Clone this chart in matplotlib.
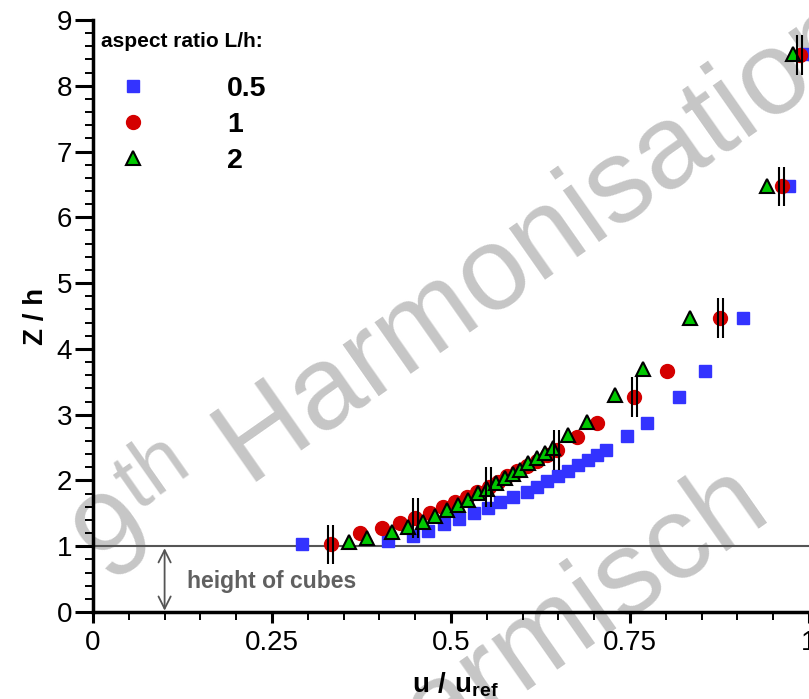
import numpy as np
import matplotlib
matplotlib.use("Agg")
import matplotlib.pyplot as plt

plt.rcParams["font.family"] = ["Liberation Sans", "DejaVu Sans"]
plt.rcParams["mathtext.fontset"] = "custom"
plt.rcParams["mathtext.rm"] = "Liberation Sans"
plt.rcParams["mathtext.bf"] = "Liberation Sans:bold"

# Daten: u/u_ref und Z/h je Seitenverhaeltnis
u_05 = [0.292, 0.412, 0.447, 0.468, 0.490, 0.511, 0.532, 0.552, 0.568, 0.587, 0.606, 0.620, 0.634,
        0.649, 0.663, 0.677, 0.691, 0.704, 0.716, 0.746, 0.774, 0.818, 0.855, 0.908, 0.972, 0.996]
z_05 = [1.03, 1.08, 1.15, 1.23, 1.34, 1.41, 1.50, 1.58, 1.67, 1.75, 1.82, 1.90, 1.99,
        2.07, 2.14, 2.23, 2.31, 2.39, 2.46, 2.67, 2.87, 3.27, 3.66, 4.47, 6.47, 8.48]

u_1 = [0.332, 0.373, 0.404, 0.429, 0.450, 0.471, 0.489, 0.506, 0.522, 0.536, 0.553, 0.565, 0.578,
       0.592, 0.606, 0.620, 0.634, 0.648, 0.676, 0.704, 0.756, 0.802, 0.876, 0.962, 0.987]
z_1 = [1.03, 1.20, 1.28, 1.35, 1.43, 1.50, 1.60, 1.67, 1.75, 1.82, 1.90, 1.98, 2.06,
       2.14, 2.22, 2.30, 2.38, 2.46, 2.66, 2.87, 3.27, 3.66, 4.47, 6.47, 8.47]
# Punkte von L/h = 1 mit Fehlerbalken (Index in u_1/z_1)
err_idx_1 = [0, 4, 10, 17, 20, 22, 23, 24]

u_2 = [0.358, 0.382, 0.418, 0.440, 0.461, 0.478, 0.494, 0.510, 0.524, 0.538, 0.550, 0.563, 0.575,
       0.587, 0.596, 0.608, 0.620, 0.631, 0.642, 0.663, 0.690, 0.729, 0.768, 0.834, 0.941, 0.978]
z_2 = [1.06, 1.12, 1.22, 1.29, 1.37, 1.46, 1.55, 1.63, 1.70, 1.81, 1.87, 1.96, 2.04,
       2.10, 2.16, 2.26, 2.34, 2.42, 2.49, 2.69, 2.89, 3.30, 3.69, 4.47, 6.47, 8.48]

labels = ["0.5", "1", "2"]
x_ticks = [0, 0.25, 0.5, 0.75, 1]
x_ticklabels = ["0", "0.25", "0.5", "0.75", "1"]
y_ticks = list(range(10))

fig = plt.figure(figsize=(8.09, 6.99), dpi=100)
ax = fig.add_axes([93 / 809, 87 / 699, 716 / 809, 592 / 699])

# Wasserzeichen
wm = dict(transform=fig.transFigure, fontsize=85, color="#c6c6c6", rotation=35,
          rotation_mode="anchor", ha="left", va="baseline", zorder=0.5, clip_on=False)
ax.text(0.135, 0.160, r"9$^{\rm th}$ Harmonisation", **wm)
ax.text(0.445, -0.150, "Garmisch", **wm)

ax.axhline(1.0, color="#555555", lw=1.5, zorder=2)

ax.plot(u_05, z_05, ls="none", marker="s", ms=8, color="#3333ff", mec="#3333ff", label=labels[0], zorder=3)
ax.plot(u_1, z_1, ls="none", marker="o", ms=10, color="#d40000", mec="#d40000", label=labels[1], zorder=4)
ax.plot(u_2, z_2, ls="none", marker="^", ms=10.5, color="#00c800", mec="black", mew=1.5,
        label=labels[2], zorder=5)

# Fehlerbalken als Doppelstrich
u_err = np.array(u_1)[err_idx_1]
z_err = np.array(z_1)[err_idx_1]
for dx in (-0.0035, 0.0035):
    ax.vlines(u_err + dx, z_err - 0.3, z_err + 0.3, colors="black", lw=1.5, zorder=6)

# Hoehe der Wuerfel
ax.annotate("", xy=(0.1, 0.02), xytext=(0.1, 0.97),
            arrowprops=dict(arrowstyle="<->", color="#555555", lw=1.3,
                            shrinkA=0, shrinkB=0, mutation_scale=22))
ax.text(0.131, 0.47, "height of cubes", fontsize=16.5, fontweight="bold", color="#606060",
        ha="left", va="center")

ax.set_xlim(0, 1)
ax.set_ylim(0, 9)
ax.set_xticks(x_ticks)
ax.set_xticklabels(x_ticklabels)
ax.set_yticks(y_ticks)
ax.set_xticks(np.arange(0, 1.001, 0.05), minor=True)
ax.set_yticks(np.arange(0, 9.001, 0.2), minor=True)
ax.tick_params(axis="both", which="major", labelsize=20, width=2.2, direction="out")
ax.tick_params(axis="y", which="major", length=13, pad=2)
ax.tick_params(axis="x", which="major", length=8, pad=5)
ax.tick_params(axis="both", which="minor", length=6, width=1.4, direction="out")

for side in ("top", "right"):
    ax.spines[side].set_visible(False)
for side in ("left", "bottom"):
    ax.spines[side].set_linewidth(2.5)

ax.set_ylabel("Z / h", fontsize=20, fontweight="bold")
ax.yaxis.set_label_coords(-0.062, 0.5)
ax.set_xlabel(r"$\mathbf{u\ /\ u_{ref}}$", fontsize=20)
ax.xaxis.set_label_coords(0.506, -0.0985)

ax.text(0.011, 0.963, "aspect ratio L/h:", transform=ax.transAxes, fontsize=15,
        fontweight="bold", ha="left", va="center")
ax.legend(loc="upper left", bbox_to_anchor=(0.011, 0.906), frameon=False, borderpad=0,
          borderaxespad=0, handlelength=2.25, handletextpad=2.18, labelspacing=0.36,
          prop=dict(weight="bold", size=20.5))

fig.savefig("out.png", dpi=100)
